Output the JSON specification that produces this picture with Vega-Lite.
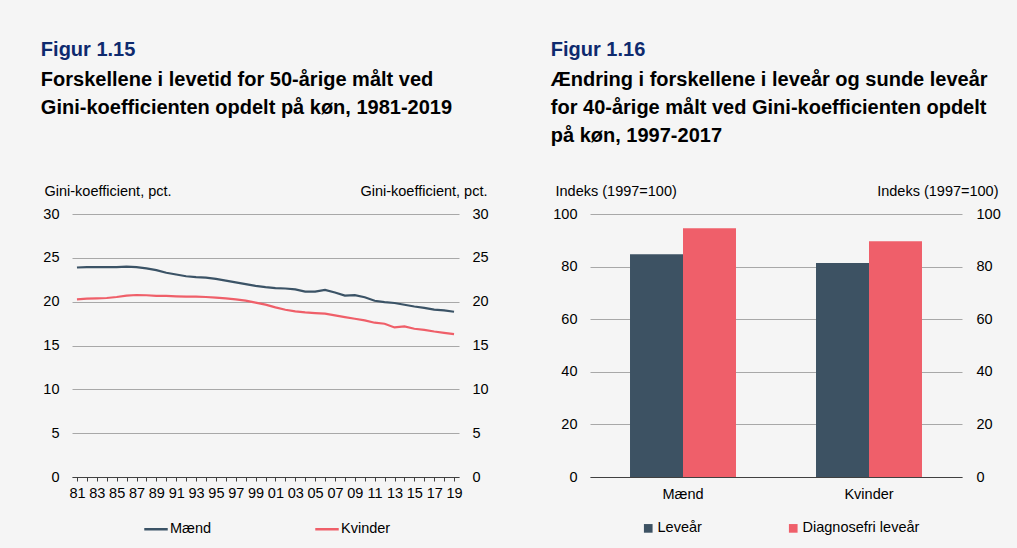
{
  "$schema": "https://vega.github.io/schema/vega-lite/v6.json",
  "background": "#f5f5f5",
  "padding": {"left": 40, "top": 40, "right": 20, "bottom": 14},
  "bounds": "flush",
  "spacing": 131,
  "config": {
    "font": "Liberation Sans",
    "view": {"stroke": null},
    "axis": {
      "labelFont": "Liberation Sans", "labelFontSize": 14.5, "labelColor": "#000",
      "titleFont": "Liberation Sans", "titleFontSize": 14.5, "titleFontWeight": "normal", "titleColor": "#000",
      "gridColor": "#a8a8a8", "gridWidth": 1, "domainColor": "#404040", "tickColor": "#404040"
    },
    "legend": {
      "labelFont": "Liberation Sans", "labelFontSize": 14.5, "labelColor": "#000",
      "orient": "none", "direction": "horizontal", "title": null
    },
    "title": {
      "font": "Liberation Sans", "fontSize": 20, "fontWeight": "bold", "color": "#0e2a6e",
      "subtitleFont": "Liberation Sans", "subtitleFontSize": 20, "subtitleFontWeight": "bold", "subtitleColor": "#000",
      "subtitleLineHeight": 28, "subtitlePadding": 10, "anchor": "start", "frame": "bounds"
    }
  },
  "resolve": {"scale": {"color": "independent", "x": "independent", "y": "independent"}},
  "hconcat": [
    {
      "width": 387,
      "height": 263,
      "title": {
        "text": "Figur 1.15",
        "subtitle": ["Forskellene i levetid for 50-årige målt ved", "Gini-koefficienten opdelt på køn, 1981-2019"],
        "offset": 65,
        "dx": -2
      },
      "data": {"values": [
        {"year": 1981, "sex": "Mænd", "value": 23.9}, {"year": 1982, "sex": "Mænd", "value": 23.95}, {"year": 1983, "sex": "Mænd", "value": 23.95}, {"year": 1984, "sex": "Mænd", "value": 23.95}, {"year": 1985, "sex": "Mænd", "value": 23.95}, {"year": 1986, "sex": "Mænd", "value": 24.0}, {"year": 1987, "sex": "Mænd", "value": 23.95}, {"year": 1988, "sex": "Mænd", "value": 23.8}, {"year": 1989, "sex": "Mænd", "value": 23.6}, {"year": 1990, "sex": "Mænd", "value": 23.3}, {"year": 1991, "sex": "Mænd", "value": 23.1}, {"year": 1992, "sex": "Mænd", "value": 22.9}, {"year": 1993, "sex": "Mænd", "value": 22.8}, {"year": 1994, "sex": "Mænd", "value": 22.75}, {"year": 1995, "sex": "Mænd", "value": 22.6}, {"year": 1996, "sex": "Mænd", "value": 22.4}, {"year": 1997, "sex": "Mænd", "value": 22.2}, {"year": 1998, "sex": "Mænd", "value": 22.0}, {"year": 1999, "sex": "Mænd", "value": 21.8}, {"year": 2000, "sex": "Mænd", "value": 21.65}, {"year": 2001, "sex": "Mænd", "value": 21.55}, {"year": 2002, "sex": "Mænd", "value": 21.5}, {"year": 2003, "sex": "Mænd", "value": 21.4}, {"year": 2004, "sex": "Mænd", "value": 21.15}, {"year": 2005, "sex": "Mænd", "value": 21.15}, {"year": 2006, "sex": "Mænd", "value": 21.35}, {"year": 2007, "sex": "Mænd", "value": 21.05}, {"year": 2008, "sex": "Mænd", "value": 20.7}, {"year": 2009, "sex": "Mænd", "value": 20.75}, {"year": 2010, "sex": "Mænd", "value": 20.5}, {"year": 2011, "sex": "Mænd", "value": 20.1}, {"year": 2012, "sex": "Mænd", "value": 19.95}, {"year": 2013, "sex": "Mænd", "value": 19.85}, {"year": 2014, "sex": "Mænd", "value": 19.65}, {"year": 2015, "sex": "Mænd", "value": 19.45}, {"year": 2016, "sex": "Mænd", "value": 19.3}, {"year": 2017, "sex": "Mænd", "value": 19.1}, {"year": 2018, "sex": "Mænd", "value": 19.0}, {"year": 2019, "sex": "Mænd", "value": 18.85},
        {"year": 1981, "sex": "Kvinder", "value": 20.27}, {"year": 1982, "sex": "Kvinder", "value": 20.34}, {"year": 1983, "sex": "Kvinder", "value": 20.38}, {"year": 1984, "sex": "Kvinder", "value": 20.42}, {"year": 1985, "sex": "Kvinder", "value": 20.53}, {"year": 1986, "sex": "Kvinder", "value": 20.69}, {"year": 1987, "sex": "Kvinder", "value": 20.76}, {"year": 1988, "sex": "Kvinder", "value": 20.73}, {"year": 1989, "sex": "Kvinder", "value": 20.65}, {"year": 1990, "sex": "Kvinder", "value": 20.65}, {"year": 1991, "sex": "Kvinder", "value": 20.61}, {"year": 1992, "sex": "Kvinder", "value": 20.57}, {"year": 1993, "sex": "Kvinder", "value": 20.57}, {"year": 1994, "sex": "Kvinder", "value": 20.53}, {"year": 1995, "sex": "Kvinder", "value": 20.46}, {"year": 1996, "sex": "Kvinder", "value": 20.38}, {"year": 1997, "sex": "Kvinder", "value": 20.27}, {"year": 1998, "sex": "Kvinder", "value": 20.11}, {"year": 1999, "sex": "Kvinder", "value": 19.89}, {"year": 2000, "sex": "Kvinder", "value": 19.66}, {"year": 2001, "sex": "Kvinder", "value": 19.35}, {"year": 2002, "sex": "Kvinder", "value": 19.08}, {"year": 2003, "sex": "Kvinder", "value": 18.89}, {"year": 2004, "sex": "Kvinder", "value": 18.78}, {"year": 2005, "sex": "Kvinder", "value": 18.7}, {"year": 2006, "sex": "Kvinder", "value": 18.63}, {"year": 2007, "sex": "Kvinder", "value": 18.44}, {"year": 2008, "sex": "Kvinder", "value": 18.24}, {"year": 2009, "sex": "Kvinder", "value": 18.05}, {"year": 2010, "sex": "Kvinder", "value": 17.86}, {"year": 2011, "sex": "Kvinder", "value": 17.6}, {"year": 2012, "sex": "Kvinder", "value": 17.48}, {"year": 2013, "sex": "Kvinder", "value": 17.06}, {"year": 2014, "sex": "Kvinder", "value": 17.18}, {"year": 2015, "sex": "Kvinder", "value": 16.91}, {"year": 2016, "sex": "Kvinder", "value": 16.79}, {"year": 2017, "sex": "Kvinder", "value": 16.6}, {"year": 2018, "sex": "Kvinder", "value": 16.45}, {"year": 2019, "sex": "Kvinder", "value": 16.3}
      ]},
      "encoding": {
        "x": {
          "field": "year", "type": "ordinal",
          "scale": {"padding": 0.5},
          "axis": {
            "title": null, "labelAngle": 0, "labelOverlap": false, "grid": false,
            "tickSize": 4, "labelPadding": 5,
            "labelExpr": "datum.value % 2 == 1 ? substring(toString(datum.value), 2, 4) : ''"
          }
        },
        "color": {
          "field": "sex", "type": "nominal",
          "scale": {"domain": ["Mænd", "Kvinder"], "range": ["#3b5366", "#ef5f69"]},
          "legend": {"symbolType": "stroke", "symbolSize": 550, "symbolStrokeWidth": 2.5, "columnPadding": 98, "labelOffset": 1, "legendX": 71, "legendY": 302}
        }
      },
      "layer": [
        {
          "mark": {"type": "line", "strokeWidth": 2.2},
          "encoding": {
            "y": {
              "field": "value", "type": "quantitative",
              "scale": {"domain": [0, 30]},
              "axis": {
                "values": [0, 5, 10, 15, 20, 25, 30], "domain": false, "ticks": false, "labelPadding": 13,
                "title": "Gini-koefficient, pct.", "titleAngle": 0, "titleAlign": "left", "titleBaseline": "alphabetic",
                "titleX": -28, "titleY": -19
              }
            }
          }
        },
        {
          "mark": {"type": "line", "opacity": 0},
          "encoding": {
            "y": {
              "field": "value", "type": "quantitative",
              "scale": {"domain": [0, 30]},
              "axis": {
                "orient": "right", "grid": false,
                "values": [0, 5, 10, 15, 20, 25, 30], "domain": false, "ticks": false, "labelPadding": 13,
                "title": "Gini-koefficient, pct.", "titleAngle": 0, "titleAlign": "right", "titleBaseline": "alphabetic",
                "titleX": 28, "titleY": -19
              }
            }
          }
        }
      ],
      "resolve": {"scale": {"y": "independent"}}
    },
    {
      "width": 372,
      "height": 263,
      "title": {
        "text": "Figur 1.16",
        "subtitle": ["Ændring i forskellene i leveår og sunde leveår", "for 40-årige målt ved Gini-koefficienten opdelt", "på køn, 1997-2017"],
        "offset": 37,
        "dx": -2
      },
      "data": {"values": [
        {"sex": "Mænd", "type": "Leveår", "value": 84.7},
        {"sex": "Mænd", "type": "Diagnosefri leveår", "value": 94.6},
        {"sex": "Kvinder", "type": "Leveår", "value": 81.4},
        {"sex": "Kvinder", "type": "Diagnosefri leveår", "value": 89.6}
      ]},
      "encoding": {
        "x": {
          "field": "sex", "type": "nominal", "sort": ["Mænd", "Kvinder"],
          "scale": {"paddingInner": 0, "paddingOuter": 0},
          "axis": {"title": null, "labelAngle": 0, "ticks": false, "labelPadding": 10, "grid": false}
        },
        "xOffset": {
          "field": "type", "type": "nominal", "sort": ["Leveår", "Diagnosefri leveår"],
          "scale": {"paddingInner": 0, "paddingOuter": 0.755}
        },
        "color": {
          "field": "type", "type": "nominal",
          "scale": {"domain": ["Leveår", "Diagnosefri leveår"], "range": ["#3d5263", "#ef5f6a"]},
          "legend": {"symbolType": "square", "symbolSize": 75, "symbolStrokeWidth": 0, "columnPadding": 84, "labelOffset": 2, "legendX": 51, "legendY": 307}
        }
      },
      "layer": [
        {
          "mark": {"type": "bar"},
          "encoding": {
            "y": {
              "field": "value", "type": "quantitative",
              "scale": {"domain": [0, 100]},
              "axis": {
                "values": [0, 20, 40, 60, 80, 100], "domain": false, "ticks": false, "labelPadding": 13,
                "title": "Indeks (1997=100)", "titleAngle": 0, "titleAlign": "left", "titleBaseline": "alphabetic",
                "titleX": -35, "titleY": -19
              }
            }
          }
        },
        {
          "mark": {"type": "bar", "opacity": 0},
          "encoding": {
            "y": {
              "field": "value", "type": "quantitative",
              "scale": {"domain": [0, 100]},
              "axis": {
                "orient": "right", "grid": false,
                "values": [0, 20, 40, 60, 80, 100], "domain": false, "ticks": false, "labelPadding": 14,
                "title": "Indeks (1997=100)", "titleAngle": 0, "titleAlign": "right", "titleBaseline": "alphabetic",
                "titleX": 36, "titleY": -19
              }
            }
          }
        }
      ],
      "resolve": {"scale": {"y": "independent"}}
    }
  ]
}
